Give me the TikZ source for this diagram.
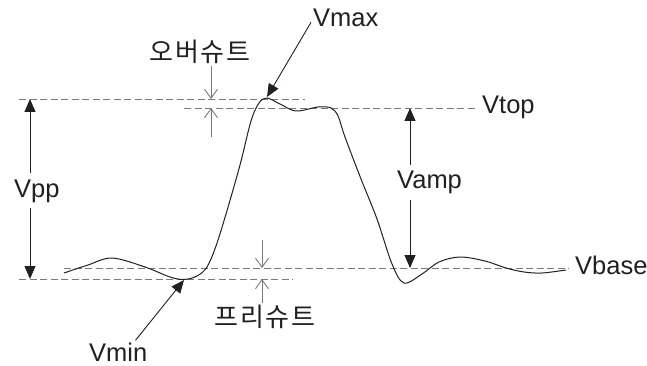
\documentclass[tikz,border=0pt]{standalone}
\usepackage{fontspec}
\setmainfont{Liberation Sans}
\newfontfamily\kofont{Noto Sans CJK KR}
\usepackage{tikz}
\usetikzlibrary{arrows.meta,calc}
\definecolor{ink}{HTML}{231F20}
\definecolor{levelgray}{HTML}{7A7A7A}
\newcommand\kgap{\hspace{1.5pt}}

\begin{document}
\begin{tikzpicture}[x=1pt,y=-1pt,
  lbl/.style={text=ink,font=\fontsize{25.5}{28}\selectfont,inner sep=6pt},
  kolbl/.style={text=ink,font=\kofont\fontsize{26}{28}\selectfont,inner sep=2pt},
  level/.style={levelgray,line width=0.9pt,dash pattern=on 7pt off 3.5pt},
  bigarrow/.style={ink,line width=0.9pt,-{Triangle[length=13pt,width=11pt]}},
  thinarrow/.style={levelgray,line width=0.9pt,-{Straight Barb[length=9pt,width=13pt,line width=0.9pt]}}]
\useasboundingbox (0,0) rectangle (647,366);
% labels
\node[lbl,anchor=base west] (vpp) at (8,197) {Vpp};
\node[lbl,anchor=base west] (vamp) at (391,189) {Vamp};
\node[lbl,anchor=base west] (vtop) at (476,114) {Vtop};
\node[lbl,anchor=base west] (vbase) at (569,274) {Vbase};
\node[lbl,anchor=base west,inner sep=2pt] (vmax) at (311,27) {Vmax};
\node[lbl,anchor=base west,inner sep=2pt] (vmin) at (87,361) {Vmin};
\node[kolbl] (over) at (200,52) {오\kgap 버\kgap 슈\kgap 트};
\node[kolbl] (pre) at (265,317) {프\kgap 리\kgap 슈\kgap 트};
% levels
\coordinate (maxl) at (19,99);
\coordinate (maxr) at (305,99);
\coordinate (topl) at (184,108);
\coordinate (basel) at (64,268);
\coordinate (minl) at (19,279);
\coordinate (minr) at (293,279);
\draw[level] (maxl) -- (maxr);
\draw[level] (topl) -- (topl -| vtop.west);
\draw[level] (basel) -- (basel -| vbase.west);
\draw[level] (minl) -- (minr);
% waveform
\draw[ink,line width=1pt] plot[smooth,tension=0.55] coordinates {
  (64,273) (88,265) (112,258) (145,267) (170,277) (184,279.5) (197,276)
  (207,267) (216,246) (226,214) (240,165) (251,121) (259,103) (267,98)
  (280,104) (296,111) (318,107) (331,108) (338,116) (345,137) (361,179)
  (377,219) (392,264) (404,283) (422,274) (439,262) (460,257) (485,261)
  (506,268) (524,272) (542,273) (566,270)};
% Vpp and Vamp
\coordinate (pptop) at (30,99);
\coordinate (ppbot) at (30,279);
\coordinate (amtop) at (410,108);
\coordinate (ambot) at (410,268);
\draw[bigarrow] (vpp.north -| pptop) -- (pptop);
\draw[bigarrow] (vpp.south -| ppbot) -- (ppbot);
\draw[bigarrow] (vamp.north -| amtop) -- (amtop);
\draw[bigarrow] (vamp.south -| ambot) -- (ambot);
% Vmax and Vmin
\coordinate (peak) at (267,97);
\coordinate (dip) at (184,280);
\draw[bigarrow] ([yshift=-4pt]vmax.west) -- (peak);
\draw[bigarrow] ([xshift=-14pt]vmin.north east) -- (dip);
% overshoot and preshoot
\coordinate (ovtop) at (211,99);
\coordinate (ovbot) at (211,108);
\coordinate (ovend) at (211,137);
\coordinate (prtop) at (262,268);
\coordinate (prbeg) at (262,240);
\coordinate (prbot) at (262,279);
\draw[thinarrow] (over.south -| ovtop) -- (ovtop);
\draw[thinarrow] (ovend) -- (ovbot);
\draw[thinarrow] (prbeg) -- (prtop);
\draw[thinarrow] (pre.north -| prbot) -- (prbot);
\end{tikzpicture}
\end{document}
